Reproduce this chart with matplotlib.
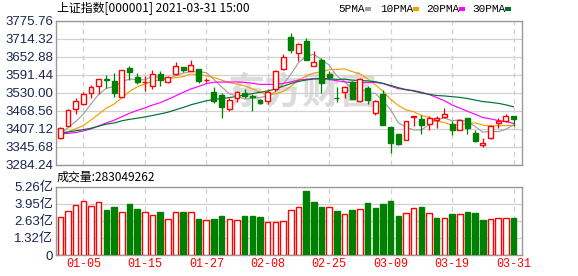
import numpy as np
import pandas as pd
import matplotlib
matplotlib.use("Agg")
import matplotlib.pyplot as plt

plt.rcParams['font.family'] = ['Noto Sans CJK SC', 'DejaVu Sans']

# trading days shown (2020-12-30 .. 2021-03-31)
dates = ['12-30', '12-31', '01-04', '01-05', '01-06', '01-07', '01-08', '01-11', '01-12', '01-13',
         '01-14', '01-15', '01-18', '01-19', '01-20', '01-21', '01-22', '01-25', '01-26', '01-27',
         '01-28', '01-29', '02-01', '02-02', '02-03', '02-04', '02-05', '02-08', '02-09', '02-10',
         '02-18', '02-19', '02-22', '02-23', '02-24', '02-25', '02-26', '03-01', '03-02', '03-03',
         '03-04', '03-05', '03-08', '03-09', '03-10', '03-11', '03-12', '03-15', '03-16', '03-17',
         '03-18', '03-19', '03-22', '03-23', '03-24', '03-25', '03-26', '03-29', '03-30', '03-31']

opens = [3376, 3419, 3476, 3494, 3531, 3555, 3578, 3572, 3518, 3616,
         3584, 3567, 3555, 3596, 3568, 3595, 3619, 3606, 3612, 3573,
         3533, 3524, 3476, 3513, 3529, 3520, 3507, 3504, 3544, 3613,
         3721, 3666, 3707, 3621, 3641, 3596, 3514, 3533, 3566, 3501,
         3547, 3461, 3526, 3413, 3390, 3370, 3449, 3440, 3424, 3438,
         3449, 3424, 3405, 3444, 3392, 3353, 3376, 3428, 3433, 3450]
highs = [3414, 3475, 3513, 3533, 3559, 3578, 3590, 3598, 3608, 3621,
         3598, 3587, 3608, 3606, 3589, 3635, 3619, 3641, 3612, 3581,
         3550, 3530, 3513, 3538, 3544, 3526, 3509, 3545, 3610, 3664,
         3736, 3701, 3718, 3673, 3648, 3604, 3552, 3554, 3570, 3580,
         3553, 3507, 3541, 3413, 3390, 3435, 3453, 3456, 3450, 3450,
         3478, 3436, 3438, 3444, 3405, 3378, 3421, 3446, 3458, 3450]
lows = [3374, 3419, 3460, 3488, 3513, 3526, 3547, 3517, 3518, 3576,
        3562, 3536, 3544, 3555, 3564, 3593, 3601, 3604, 3564, 3566,
        3496, 3446, 3469, 3498, 3512, 3467, 3492, 3493, 3536, 3610,
        3665, 3638, 3644, 3621, 3530, 3576, 3499, 3513, 3509, 3498,
        3492, 3456, 3421, 3324, 3353, 3370, 3416, 3390, 3404, 3410,
        3449, 3387, 3404, 3390, 3362, 3344, 3373, 3412, 3430, 3419]
closes = [3412, 3472, 3501, 3528, 3550, 3578, 3573, 3530, 3608, 3600,
          3567, 3569, 3596, 3576, 3584, 3621, 3610, 3624, 3570, 3574,
          3504, 3482, 3506, 3533, 3521, 3518, 3496, 3533, 3604, 3654,
          3678, 3698, 3644, 3636, 3564, 3585, 3512, 3549, 3510, 3578,
          3505, 3501, 3421, 3358, 3355, 3435, 3451, 3421, 3446, 3445,
          3459, 3405, 3438, 3412, 3366, 3361, 3418, 3433, 3453, 3442]
# closes before the window, only used to start the moving averages
prior_close = [3363, 3377, 3414, 3402, 3362, 3369, 3408, 3391, 3451, 3449,
               3442, 3444, 3416, 3410, 3371, 3373, 3347, 3369, 3367, 3366,
               3404, 3394, 3420, 3356, 3383, 3364, 3397, 3397, 3379]
# volume in 亿
volume = [2.90, 3.36, 3.82, 4.13, 3.75, 4.05, 3.46, 3.67, 3.28, 3.93,
          3.54, 3.28, 3.05, 3.28, 2.75, 3.28, 3.28, 3.28, 2.77, 2.67,
          2.77, 3.00, 2.75, 2.67, 3.00, 3.00, 2.93, 2.54, 2.54, 2.59,
          3.46, 3.67, 4.93, 4.08, 3.69, 3.69, 3.39, 3.16, 3.46, 3.52,
          4.00, 3.62, 3.93, 4.16, 3.00, 3.23, 3.62, 3.69, 3.23, 2.85,
          2.85, 3.16, 3.16, 3.31, 3.23, 2.69, 2.77, 2.85, 2.85, 2.83]

price_ticks = [3284.24, 3345.68, 3407.12, 3468.56, 3530.00, 3591.44, 3652.88, 3714.32, 3775.76]
vol_ticks = [0, 1.32, 2.63, 3.95, 5.26]
vol_labels = ['0', '1.32亿', '2.63亿', '3.95亿', '5.26亿']
date_ticks = [3, 11, 19, 27, 35, 43, 51, 59]

ma_periods = [5, 10, 20, 30]
ma_colors = ['#a0a0a0', '#f0a000', '#ff00ff', '#007030']

RED = '#ff0000'
GREEN = '#008000'
FRAME = '#999999'
GRID = '#d0d0d0'
LABEL = '#1c2450'

x = np.arange(len(dates))
o = np.array(opens); h = np.array(highs); l = np.array(lows); c = np.array(closes)
full = pd.Series(prior_close + closes, dtype=float)
prev = full.shift(1).values[len(prior_close):]

fig = plt.figure(figsize=(5.78, 2.76), dpi=100)
ax = fig.add_axes([56/578, 1-165/276, 466/578, 144/276])
axv = fig.add_axes([56/578, 1-255/276, 466/578, 68.5/276])

for a in (ax, axv):
    a.set_xlim(-0.56, 60.1)
    for s in a.spines.values():
        s.set_color(FRAME)
        s.set_linewidth(1.0)
    a.set_xticks(date_ticks)
    a.grid(axis='x', color=GRID, linestyle=(0, (4, 3)), linewidth=0.9)
    a.grid(axis='y', color=GRID, linestyle='-', linewidth=0.9)
    a.set_axisbelow(True)
    a.tick_params(length=0, pad=2)

# watermark
ax.text(0.53, 0.5, '东方财富', transform=ax.transAxes, ha='center', va='center',
        fontsize=27, fontweight='heavy', style='italic', color='#dcdcdc', zorder=0.5)

# moving averages
for n, col in zip(ma_periods, ma_colors):
    ma = full.rolling(n).mean().values[len(prior_close):]
    ax.plot(x, ma, color=col, linewidth=0.85, zorder=2)

# candles
up = c >= o
w = 0.64
for i in x:
    col = RED if up[i] else GREEN
    top, bot = max(o[i], c[i]), min(o[i], c[i])
    ax.vlines(i, top, h[i], color=col, linewidth=0.9, zorder=3)
    ax.vlines(i, l[i], bot, color=col, linewidth=0.9, zorder=3)
    body = max(top - bot, 0.8)
    ax.bar(i, body, bottom=bot, width=w, facecolor='white' if up[i] else GREEN,
           edgecolor=col, linewidth=1.0, zorder=4)

ax.set_ylim(price_ticks[0], price_ticks[-1])
ax.set_yticks(price_ticks)
ax.set_yticklabels(['%.2f' % v for v in price_ticks], fontsize=9.5,
                   family=['Liberation Sans', 'Noto Sans CJK SC'], color=LABEL)
ax.set_xticklabels([])

# volume bars, coloured against previous close
vup = c >= prev
axv.bar(x, volume, width=0.72, facecolor=['white' if u else GREEN for u in vup],
        edgecolor=[RED if u else GREEN for u in vup], linewidth=1.0, zorder=3)
axv.set_ylim(0, vol_ticks[-1])
axv.set_yticks(vol_ticks)
axv.set_yticklabels(vol_labels, fontsize=9.5, family=['Liberation Sans', 'Noto Sans CJK SC'], color=LABEL)
axv.set_xticklabels([dates[i] for i in date_ticks], fontsize=8.5,
                    family=['Liberation Mono'], color=RED)

# header texts
fig.text(57/578, 1-9/276, '上证指数[000001] 2021-03-31 15:00', fontsize=8.6,
         va='center', ha='left', color='black')
fig.text(57/578, 1-177/276, '成交量:283049262', fontsize=8.6,
         va='center', ha='left', color='black')

lx = [338, 380, 426, 472]
for n, col, px in zip(ma_periods, ma_colors, lx):
    fig.text(px/578, 1-9/276, '%dPMA' % n, fontsize=8, family=['Liberation Mono'],
             va='center', ha='left', color='black')
legend_marks = [365, 413, 459, 505]
for col, px in zip(ma_colors, legend_marks):
    fig.patches.append(plt.Rectangle((px/578, 1-10.5/276), 6/578, 3/276,
                                     transform=fig.transFigure, facecolor=col, edgecolor='none'))

fig.savefig('out.png', dpi=100)
